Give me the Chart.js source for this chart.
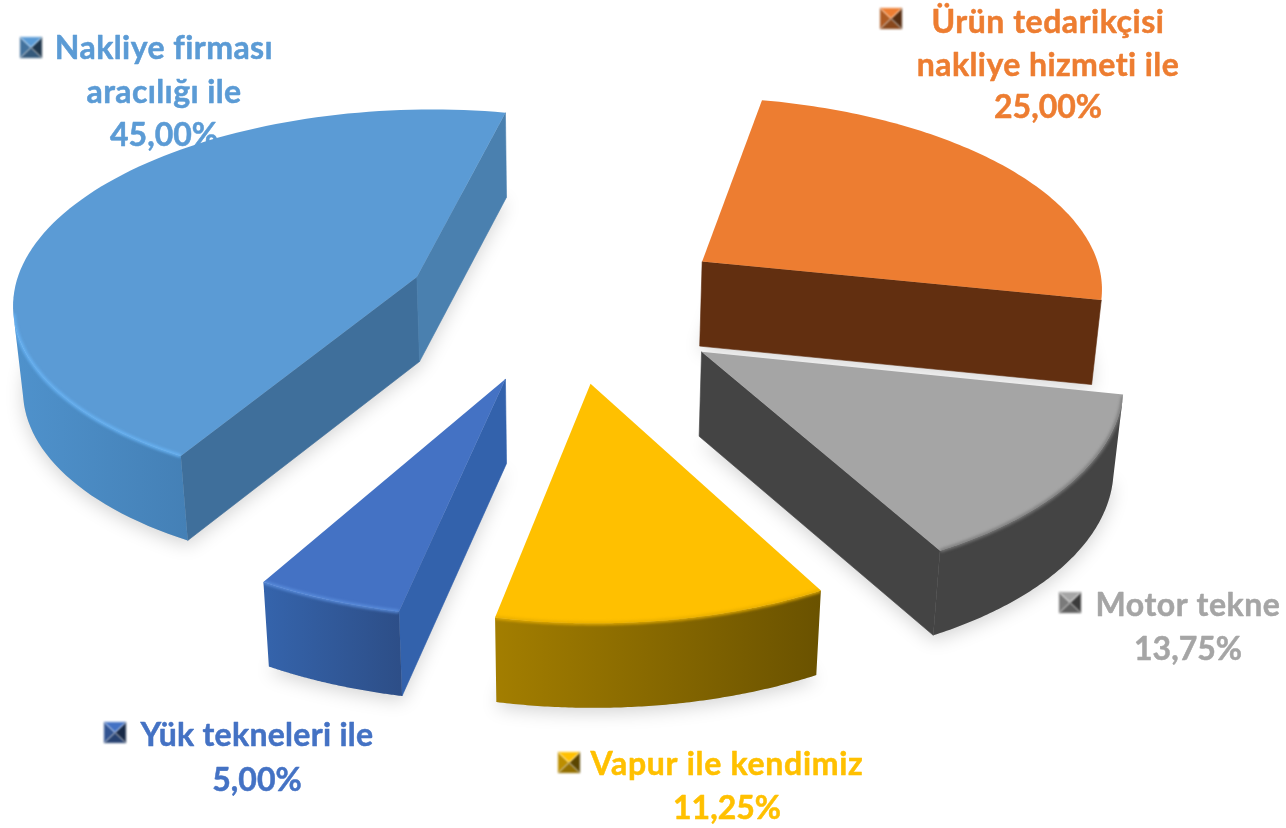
<!DOCTYPE html><html><head><meta charset="utf-8"><script src="https://cdn.jsdelivr.net/npm/chart.js@4"></script>
<style>html,body{margin:0;background:#fff}canvas{display:block}</style></head><body><canvas id="c" width="1286" height="828"></canvas>
<script>
const categories=['Ürün tedarikçisi nakliye hizmeti ile','Motor tekne','Vapur ile kendimiz','Yük tekneleri ile','Nakliye firması aracılığı ile'];
const shares=[25,13.75,11.25,5,45];
const labelLines=[['Ürün tedarikçisi','nakliye hizmeti ile'],['Motor tekne'],['Vapur ile kendimiz'],['Yük tekneleri ile'],['Nakliye firması','aracılığı ile']];
const colors=['#ED7D31','#A5A5A5','#FFC000','#4472C4','#5B9BD5'];
const explode=[141.5,139.3,137.4,137.2,137];

/* view of the tilted pie */
const view={X0:565.7,Y0:303.9,R:405.5,k:.4745,f:3557,h:84.5,c:.018};
/* per slice look: rim gradient, cut faces, bevel */
const looks=[
 {rim:['#6d3613','#5f2e10'],cutS:'#622F10',cutE:'#622F10',bevel:'rgba(0,0,0,0)'},
 {rim:['#444444','#444444'],cutS:'#444444',cutE:'#444444',bevel:'#7b7b7b'},
 {rim:['#a37e00','#6a5200'],cutS:'#8a6a00',cutE:'#8a6a00',bevel:'#e6ad00'},
 {rim:['#3564ac','#2d4e87'],cutS:'#3362ac',cutE:'#3362ac',bevel:'#5b8edd'},
 {rim:['#4f92cc','#4480b6'],cutS:'#3f6f9b',cutE:'#4a80af',bevel:'#69b4f5'}];
/* label and key placement */
const labelPos=[
 {x:1048,y:[33,76,118],w:[233,263],kx:880,ky:8},
 {x:1188,y:[616,660],w:[185],kx:1059,ky:592},
 {x:727,y:[775,819],w:[273],kx:558,ky:752},
 {x:257,y:[746,791],w:[233],kx:104,ky:722},
 {x:164,y:[59,103,146],w:[218,155],kx:20,ky:37}];
const fmt=v=>v.toFixed(2).replace('.',',')+'%';

function mix(hex,f){const n=parseInt(hex.slice(1),16);return `rgb(${(n>>16)*f|0},${((n>>8)&255)*f|0},${(n&255)*f|0})`;}

const pie3d={id:'pie3d',
 beforeDatasetDraw(chart){
  const ctx=chart.ctx,arcs=chart.getDatasetMeta(0).data;
  const P=(arc,ang,r,z)=>{
    const mid=(arc.startAngle+arc.endAngle)/2,o=arc.options.offset/arc.outerRadius;
    const U=view.R*(r*Math.cos(ang)+o*Math.cos(mid)),V=view.R*(r*Math.sin(ang)+o*Math.sin(mid));
    const w=1/(1-V/view.f);
    return [view.X0+U*w*(1-view.c*z),view.Y0+view.k*V*w+view.h*z];};
  const arcPts=(arc,z,n=96)=>{const a=[];for(let j=0;j<=n;j++)a.push(P(arc,arc.startAngle+(arc.endAngle-arc.startAngle)*j/n,1,z));return a;};
  const path=pts=>{ctx.beginPath();pts.forEach((q,i)=>i?ctx.lineTo(q[0],q[1]):ctx.moveTo(q[0],q[1]));ctx.closePath();};
  const area=pts=>{let s=0;pts.forEach((q,i)=>{const n=pts[(i+1)%pts.length];s+=q[0]*n[1]-n[0]*q[1];});return s;};
  /* labels and keys lie under the slices */
  ctx.save();
  arcs.forEach((arc,i)=>{
    const L=labelPos[i],lines=[...labelLines[i],fmt(shares[i])];
    ctx.filter='blur(0.6px)';
    ctx.font='700 32px Lato';ctx.fillStyle=colors[i];ctx.strokeStyle=colors[i];ctx.lineWidth=.5;ctx.lineJoin='round';
    ctx.textAlign='center';ctx.textBaseline='alphabetic';
    lines.forEach((t,j)=>{
      ctx.letterSpacing='0px';
      if(L.w[j]){const sp=(L.w[j]-ctx.measureText(t).width)/t.length;ctx.letterSpacing=sp.toFixed(2)+'px';}
      ctx.fillText(t,L.x,L.y[j]);ctx.strokeText(t,L.x,L.y[j]);});
    ctx.letterSpacing='0px';
    const x=L.kx,y=L.ky,W=22,H=21,cx=x+W/2,cy=y+H/2;
    const tri=(a,b,col)=>{ctx.fillStyle=col;ctx.beginPath();ctx.moveTo(a[0],a[1]);ctx.lineTo(b[0],b[1]);ctx.lineTo(cx,cy);ctx.closePath();ctx.fill();};
    ctx.filter='blur(0.9px)';
    tri([x,y],[x,y+H],mix(colors[i],.74));tri([x,y+H],[x+W,y+H],mix(colors[i],.58));tri([x+W,y],[x+W,y+H],mix(colors[i],.36));tri([x,y],[x+W,y],colors[i]);
  });
  ctx.restore();
  /* soft shadow */
  arcs.forEach(arc=>{const b=arcPts(arc,1);b.push(P(arc,0,0,1));
    ctx.save();ctx.shadowColor='rgba(0,0,0,.17)';ctx.shadowBlur=18;ctx.shadowOffsetY=5;ctx.fillStyle='#ccc';path(b);ctx.fill();ctx.restore();});
  /* slices */
  arcs.forEach((arc,i)=>{
    const lk=looks[i],top=arcPts(arc,0),bot=arcPts(arc,1),A0=P(arc,0,0,0),A1=P(arc,0,0,1);
    const s0=top[0],s1=bot[0],e0=top[top.length-1],e1=bot[bot.length-1];
    const faces=[[[A0,s0,s1,A1],lk.cutS],[[e0,A0,A1,e1],lk.cutE]];
    faces.forEach(([q,col])=>{if(area(q)<0){ctx.fillStyle=col;ctx.strokeStyle=col;ctx.lineWidth=.6;path(q);ctx.fill();ctx.stroke();}});
    /* outer wall: only the part turned to the viewer */
    const vis=[];for(let j=0;j<top.length-1;j++){if(area([top[j],top[j+1],bot[j+1],bot[j]])<0)vis.push(j);}
    let silh=[...top,A0];
    if(vis.length){
      const a=vis[0],b=vis[vis.length-1]+1,poly=[];
      for(let j=a;j<=b;j++)poly.push(top[j]);for(let j=b;j>=a;j--)poly.push(bot[j]);
      const xs=poly.map(q=>q[0]),g=ctx.createLinearGradient(Math.min(...xs),0,Math.max(...xs),0);
      g.addColorStop(0,lk.rim[0]);g.addColorStop(1,lk.rim[1]);
      ctx.fillStyle=g;path(poly);ctx.fill();
      /* top face */
      ctx.fillStyle=colors[i];path(silh);ctx.fill();
      /* bevel along the top edge */
      ctx.save();
      ctx.beginPath();[poly,silh].forEach(pl=>{pl.forEach((q,k)=>k?ctx.lineTo(q[0],q[1]):ctx.moveTo(q[0],q[1]));ctx.closePath();});
      ctx.clip();
      ctx.filter='blur(1.6px)';ctx.strokeStyle=lk.bevel;ctx.lineWidth=3.2;
      ctx.beginPath();for(let j=a;j<=b;j++){const q=top[j];j===a?ctx.moveTo(q[0],q[1]):ctx.lineTo(q[0],q[1]);}ctx.stroke();
      ctx.restore();
    } else {ctx.fillStyle=colors[i];path(silh);ctx.fill();}
  });
  return false;
 }};

new Chart(document.getElementById('c'),{type:'pie',
 data:{labels:categories,datasets:[{data:shares,backgroundColor:colors,borderWidth:0,offset:explode,hoverOffset:0}]},
 options:{responsive:false,animation:false,rotation:11.85,layout:{padding:0},plugins:{legend:{display:false},tooltip:{enabled:false}}},
 plugins:[pie3d]});
</script></body></html>
